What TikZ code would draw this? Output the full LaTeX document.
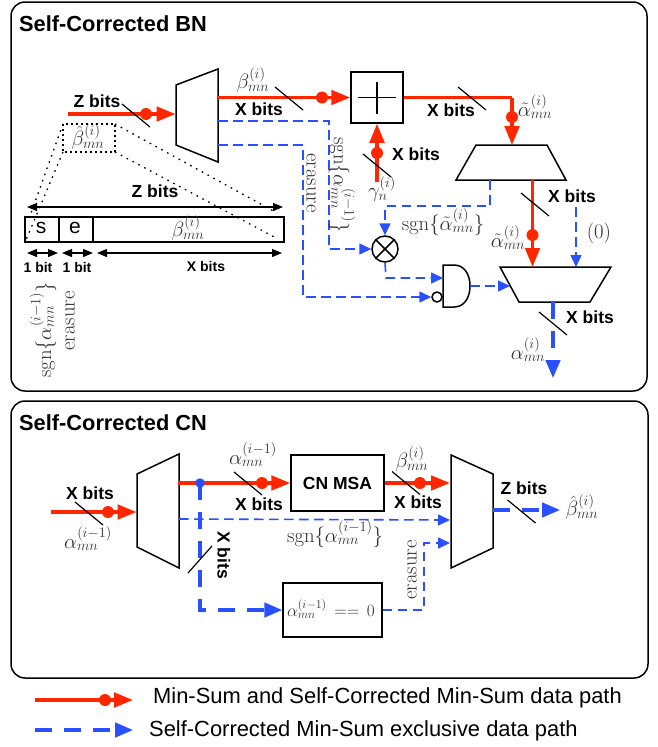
\documentclass[tikz,border=0pt]{standalone}
\usepackage{amsmath,amssymb}
\usepackage{xcolor}
\usepackage{fontspec}
\usepackage{tikz}
\usetikzlibrary{positioning,arrows.meta,calc}
\newfontfamily\hvfont{Liberation Sans}
\definecolor{pathred}{RGB}{255,38,0}
\definecolor{pathblue}{RGB}{40,80,255}
\tikzset{
    panel/.style={rectangle,draw=black,line width=1.5pt,rounded corners=14pt,inner sep=0pt},
    head/.style={font=\hvfont\bfseries\fontsize{21.8}{23}\selectfont,inner sep=0pt},
    bits/.style={font=\hvfont\bfseries\fontsize{17.5}{19}\selectfont,inner sep=0pt},
    smallbits/.style={font=\hvfont\bfseries\fontsize{14}{16}\selectfont,inner sep=0pt},
    legend/.style={font=\hvfont\fontsize{21.9}{23}\selectfont,inner sep=0pt,anchor=west},
    sym/.style={font=\fontsize{20.74}{23}\selectfont,text=black!80,inner sep=0pt},
    mux/.style={draw=black,line width=1.5pt,line join=miter},
    block/.style={rectangle,draw=black,line width=1.5pt,inner sep=0pt},
    tick/.style={draw=black,line width=1.2pt},
    redpath/.style={draw=pathred,line width=3.4pt,-{Triangle[length=19pt,width=14.5pt]}},
    redwire/.style={draw=pathred,line width=3.4pt},
    bluepath/.style={draw=pathblue,line width=3.2pt,dash pattern=on 17pt off 12pt,-{Triangle[length=18pt,width=14.5pt]}},
    thinblue/.style={draw=pathblue,line width=1.6pt,dash pattern=on 9.5pt off 5.5pt,-{Triangle[length=12pt,width=11pt]}},
    reddot/.style={circle,fill=pathred,minimum size=12pt,inner sep=0pt},
    bluedot/.style={circle,fill=pathblue,minimum size=9.5pt,inner sep=0pt},
    zoomln/.style={draw=black,line width=1.3pt,dash pattern=on 1.6pt off 5pt},
    span/.style={draw=black,line width=1.2pt,{Triangle[length=10pt,width=8pt]}-{Triangle[length=10pt,width=8pt]}},
}
\newcommand{\bus}[1]{\draw[tick] (#1) ++(-14,-11.5) -- ++(28,23);}
\begin{document}
\begin{tikzpicture}[x=1pt,y=-1pt]
\useasboundingbox (0,0) rectangle (657,747);

% panels
\node[panel,minimum width=636pt,minimum height=389pt] (bnpanel) at (329,196.5) {};
\node[panel,minimum width=637pt,minimum height=277pt] (cnpanel) at (329.5,539.5) {};
\node[head,anchor=west] (bntitle) at (19,23.5) {Self-Corrected BN};
\node[head,anchor=west] (cntitle) at (19,422.5) {Self-Corrected CN};

% BN muxes
\draw[mux] (176,85) -- (218,69) -- (218,162) -- (176,145) -- cycle;
\draw[mux] (476,145) -- (547,145) -- (566,180) -- (456,180) -- cycle;
\draw[mux] (500,267) -- (611,267) -- (590,302) -- (519,302) -- cycle;

% BN blocks
\node[block,minimum width=52pt,minimum height=51pt] (add) at (377,97.5) {};
\draw[line width=1.2pt] ($(add)+(-19,0)$) -- ($(add)+(19,0)$);
\draw[line width=1.2pt] ($(add)+(0,-16)$) -- ($(add)+(0,16)$);
\node[circle,draw=black,line width=1.5pt,minimum size=26pt,inner sep=0pt] (xr) at (385,249) {};
\draw[line width=1.5pt] (xr.45) -- (xr.225);
\draw[line width=1.5pt] (xr.135) -- (xr.315);
\draw[line width=1.5pt] (443,265) -- (443,307) -- (454,307) .. controls (464,307) and (470,298) .. (470,286) .. controls (470,274) and (464,265) .. (454,265) -- cycle;
\node[circle,draw=black,line width=1.5pt,minimum size=10pt,inner sep=0pt] (notb) at (437,297) {};

% BN coordinates
\coordinate (zin) at (68,114);
\coordinate (zout) at (175.5,114);
\coordinate (m1r) at (217,97.5);
\coordinate (m1u) at (218,121);
\coordinate (m1e) at (218,145);
\coordinate (c1) at (329,121);
\coordinate (c2) at (329,249);
\coordinate (c3) at (303,145);
\coordinate (c4) at (303,297);
\coordinate (c5) at (512,97.5);
\coordinate (m2t) at (512,145);
\coordinate (gam) at (377,182);
\coordinate (m2r) at (532.5,180);
\coordinate (m3t) at (532.5,267);
\coordinate (m2b) at (490,180);
\coordinate (c6) at (490,206);
\coordinate (c7) at (385,206);
\coordinate (zero) at (576,207);
\coordinate (m3r) at (576,267);
\coordinate (c8) at (386,278);
\coordinate (andb) at (443,278);
\coordinate (ando) at (470,286);
\coordinate (m3l) at (510,286);
\coordinate (m3b) at (553,302);
\coordinate (bnout) at (553,378);

% BN red paths
\draw[redpath] (zin) -- (zout);
\node[reddot] (dz) at (146,114) {};
\draw[redpath] (m1r) -- (add.west);
\node[reddot] (dx) at (322,97.5) {};
\draw[redwire] (add.east) -- (c5);
\draw[redpath] (c5) -- (m2t);
\node[reddot] (da) at (512,117) {};
\draw[redpath] (gam) -- (add.south);
\node[reddot] (dg) at (377,153) {};
\draw[redpath] (m2r) -- (m3t);
\node[reddot] (dt) at (532.5,235) {};

% BN blue paths
\draw[thinblue] (m1u) -- (c1) -- (c2) -- (xr.west);
\draw[thinblue] (m1e) -- (c3) -- (c4) -- (notb.west);
\draw[thinblue] (m2b) -- (c6) -- (c7) -- (xr.north);
\draw[thinblue] (zero) -- (m3r);
\draw[thinblue] (xr.south) -- (c8) -- (andb);
\draw[thinblue] (ando) -- (m3l);
\draw[bluepath] (m3b) -- (bnout);

% BN bit ticks
\bus{136,115.5}
\bus{289,98.5}
\bus{472,98.5}
\bus{377,165.5}
\bus{535,204.5}
\bus{553,323.5}

% BN labels
\node[bits] (lz) at (97,101) {Z bits};
\node[bits] (lx1) at (259,109) {X bits};
\node[bits] (lx2) at (451,110) {X bits};
\node[bits] (lx3) at (416,154) {X bits};
\node[bits] (lx4) at (572,196) {X bits};
\node[bits] (lx5) at (590,317) {X bits};
\node[sym] (sb) at (253,80) {$\beta_{mn}^{(i)}$};
\node[sym] (sa1) at (535,107) {$\tilde{\alpha}_{mn}^{(i)}$};
\node[sym] (sg) at (382,189) {$\gamma_{n}^{(i)}$};
\node[sym] (sa2) at (508,238) {$\tilde{\alpha}_{mn}^{(i)}$};
\node[sym] (sa3) at (528,350) {$\alpha_{mn}^{(i)}$};
\node[sym] (sz) at (599,233) {$(0)$};
\node[sym] (ss) at (443,222) {$\mathrm{sgn}\{\tilde{\alpha}_{mn}^{(i)}\}$};
\node[sym,rotate=-90] (er1) at (311,183) {erasure};
\node[sym,rotate=-90] (ss1) at (342,185) {$\mathrm{sgn}\{\alpha_{mn}^{(i-1)}\}$};

% bit field
\node[block,minimum width=259pt,minimum height=25pt] (field) at (154.5,229.5) {};
\draw[line width=1.5pt] (59,217) -- (59,242);
\draw[line width=1.5pt] (93,217) -- (93,242);
\node[font=\hvfont\fontsize{21}{23}\selectfont,inner sep=0pt] (fs) at (41,228) {s};
\node[font=\hvfont\fontsize{21}{23}\selectfont,inner sep=0pt] (fe) at (75,228) {e};
\node[sym] (fb) at (188,228) {$\beta_{mn}^{(i)}$};
\draw[line width=1.1pt,dash pattern=on 2pt off 3pt] (63,124) rectangle (115,152);
\node[sym] (sbh) at (88,137) {$\hat{\beta}_{mn}^{(i)}$};
\draw[zoomln] (115,124) -- (277,213);
\draw[zoomln] (115,152) -- (278,239);
\draw[zoomln] (63,124) -- (30,216);
\draw[zoomln] (63,152) -- (26,240);
\draw[span] (27,207) -- (283,207);
\node[bits] (lzf) at (155,191) {Z bits};
\draw[span] (27,253) -- (58,253);
\draw[span] (62,253) -- (93,253);
\draw[span] (97,253) -- (282,253);
\node[smallbits] (b1) at (38,267) {1 bit};
\node[smallbits] (b2) at (77,267) {1 bit};
\node[smallbits] (bx) at (206,266) {X bits};
\node[sym,rotate=90] (vs) at (43,330) {$\mathrm{sgn}\{\alpha_{mn}^{(i-1)}\}$};
\node[sym,rotate=90] (ve) at (70,321) {erasure};

% CN muxes
\draw[mux] (137,474) -- (179,454) -- (179,568) -- (137,547) -- cycle;
\draw[mux] (451,455) -- (493,474) -- (493,548) -- (451,568) -- cycle;

% CN blocks
\node[block,minimum width=93pt,minimum height=56pt,font=\hvfont\bfseries\fontsize{17.5}{19}\selectfont] (msa) at (337.5,483) {CN MSA};
\node[block,minimum width=99pt,minimum height=54pt] (zchk) at (332.5,610) {};
\node[sym,font=\fontsize{17.28}{19}\selectfont] (lchk) at (331,609) {$\alpha_{mn}^{(i-1)}\,==\,0$};

% CN coordinates
\coordinate (cin) at (51,512);
\coordinate (cinm) at (136.5,512);
\coordinate (m4r) at (178,483);
\coordinate (m4u) at (179,519);
\coordinate (m5u) at (450,520);
\coordinate (dw) at (200,483);
\coordinate (dwc) at (200,610);
\coordinate (m5r) at (493,510);
\coordinate (cnout) at (560,510);
\coordinate (m5l) at (450,483);
\coordinate (ce1) at (424,610);
\coordinate (ce2) at (424,543);
\coordinate (m5e) at (450,543);

% CN paths
\draw[redpath] (cin) -- (cinm);
\node[reddot] (dc) at (108,512) {};
\draw[redpath] (m4r) -- (msa.west);
\node[reddot] (dm) at (262,483) {};
\draw[redpath] (msa.east) -- (m5l);
\node[reddot] (db) at (420,483) {};
\draw[thinblue] (m4u) -- (m5u);
\draw[bluepath] (dw) -- (dwc) -- (zchk.west);
\node[bluedot] (dbl) at (dw) {};
\draw[thinblue] (zchk.east) -- (ce1) -- (ce2) -- (m5e);
\draw[bluepath] (m5r) -- (cnout);

% CN bit ticks
\bus{89,513.5}
\bus{248,483.5}
\bus{406,483}
\bus{521.5,511.5}
\draw[tick] (212,546) -- (188,573);

% CN labels
\node[bits] (lc1) at (90,493) {X bits};
\node[bits] (lc2) at (259,504) {X bits};
\node[bits] (lc3) at (418,502) {X bits};
\node[bits] (lc4) at (524,488) {Z bits};
\node[bits,rotate=-90] (lc5) at (224,555) {X bits};
\node[sym] (ca1) at (88,539) {$\alpha_{mn}^{(i-1)}$};
\node[sym] (ca2) at (253,455) {$\alpha_{mn}^{(i-1)}$};
\node[sym] (cb) at (412,459) {$\beta_{mn}^{(i)}$};
\node[sym] (cbh) at (582,507) {$\hat{\beta}_{mn}^{(i)}$};
\node[sym] (cs) at (335,534) {$\mathrm{sgn}\{\alpha_{mn}^{(i-1)}\}$};
\node[sym,rotate=90] (ce) at (412,570) {erasure};

% legend
\coordinate (lra) at (35,700);
\coordinate (lrb) at (133,700);
\coordinate (lba) at (35,730);
\coordinate (lbb) at (133,730);
\draw[redpath] (lra) -- (lrb);
\node[reddot] (ldot) at (105,700) {};
\draw[bluepath] (lba) -- (lbb);
\node[legend] (ltop) at (153,698) {Min-Sum and Self-Corrected Min-Sum data path};
\node[legend] (lbot) at (149,731) {Self-Corrected Min-Sum exclusive data path};
\end{tikzpicture}
\end{document}
